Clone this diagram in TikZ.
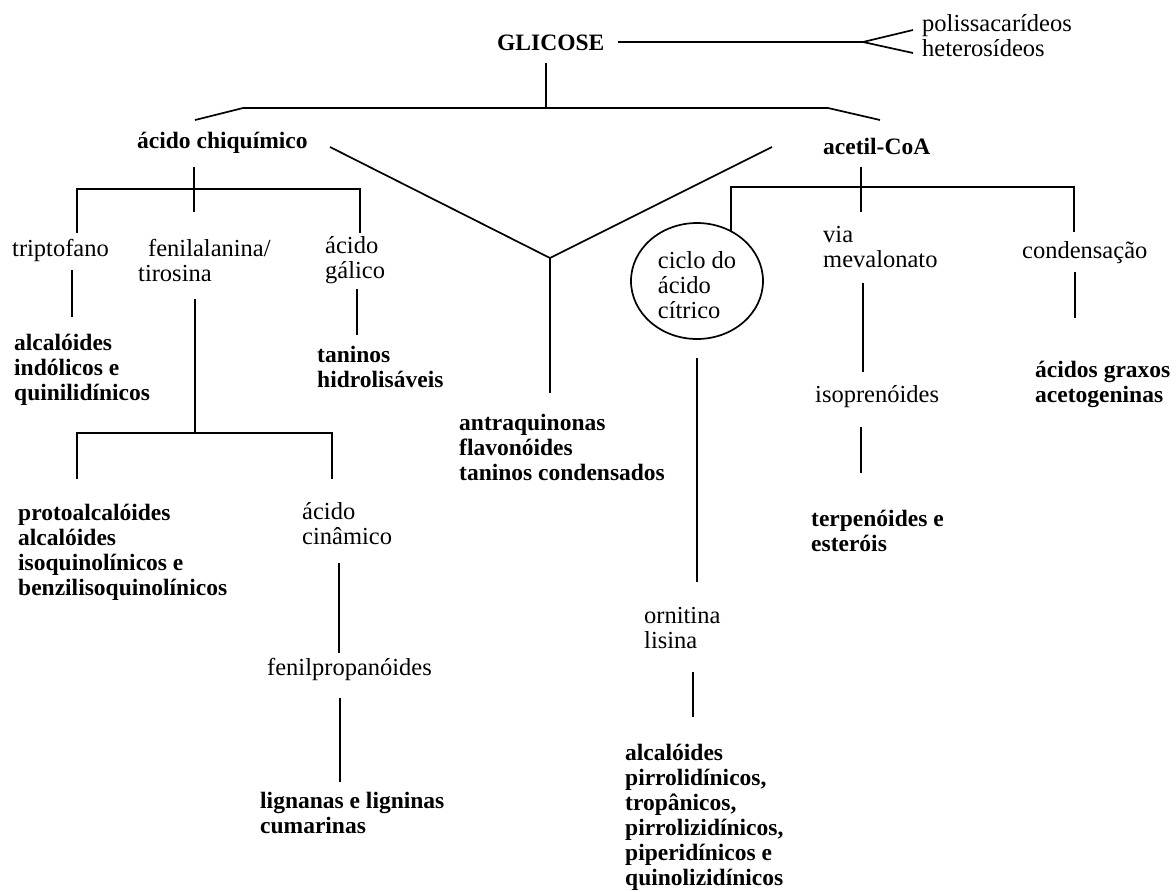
\documentclass[tikz,border=0pt]{standalone}
\usepackage{fontspec}
\setmainfont{Liberation Serif}
\usetikzlibrary{shapes.geometric}
\begin{document}
\begin{tikzpicture}[x=1pt,y=-1pt,
  ln/.style={line width=1.7pt, line join=miter},
  txt/.style={anchor=base west, inner sep=0pt, align=left, font=\fontsize{24.5}{25}\selectfont},
  btxt/.style={txt, font=\fontsize{23.5}{25}\selectfont\bfseries},
  cyc/.style={draw, ellipse, line width=1.7pt, minimum width=132pt, minimum height=116pt, inner sep=0pt, font=\fontsize{24.5}{25}\selectfont}]
\useasboundingbox (0,0) rectangle (1176,892);

% ---------- text nodes (y = baseline of last line) ----------
\node[btxt] (glicose) at (497,50) {GLICOSE};
\node[txt]  (poli) at (922,56) {polissacarídeos\\heterosídeos};
\node[btxt] (chiq) at (137,148) {ácido chiquímico};
\node[btxt] (acetil) at (823,154) {acetil-CoA};
\node[txt]  (tript) at (12,256) {triptofano};
\node[txt]  (fenil) at (138,281) {\hspace*{10pt}fenilalanina/\\tirosina};
\node[txt]  (galico) at (325,278) {ácido\\gálico};
\node[btxt] (alcind) at (14,400) {alcalóides\\indólicos e\\quinilidínicos};
\node[btxt] (tanhid) at (317,387) {taninos\\hidrolisáveis};
\node[btxt] (proto) at (18,595) {protoalcalóides\\alcalóides\\isoquinolínicos e\\benzilisoquinolínicos};
\node[txt]  (cinam) at (302,544) {ácido\\cinâmico};
\node[txt]  (fprop) at (267,675) {fenilpropanóides};
\node[btxt] (lign) at (260,833) {lignanas e ligninas\\cumarinas};
\node[btxt] (antra) at (459,480) {antraquinonas\\flavonóides\\taninos condensados};
\node[cyc]  (ciclo) at (697,281) {\raisebox{12.5pt}[0pt][0pt]{\begin{tabular}[t]{@{}l@{}}ciclo do\\ácido\\cítrico\end{tabular}}};
\node[txt]  (via) at (823,267) {via\\mevalonato};
\node[txt]  (cond) at (1022,258) {condensação};
\node[btxt] (acgrax) at (1035,402) {ácidos graxos\\acetogeninas};
\node[txt]  (isopr) at (815,402) {isoprenóides};
\node[btxt] (terp) at (811,551) {terpenóides e\\esteróis};
\node[txt]  (ornit) at (644,648) {ornitina\\lisina};
\node[btxt] (alcpir) at (625,885) {alcalóides\\pirrolidínicos,\\tropânicos,\\pirrolizidínicos,\\piperidínicos e\\quinolizidínicos};

% ---------- junction coordinates ----------
\coordinate (g1) at (618,42);
\coordinate (gf) at (863,42);
\coordinate (gp) at (913,30);
\coordinate (gh) at (913,53);
\coordinate (gv1) at (546,63);
\coordinate (gv2) at (546,108);
\coordinate (tl) at (195,120);
\coordinate (tl2) at (243,108);
\coordinate (tr2) at (828,108);
\coordinate (tr) at (880,120);

\coordinate (c1) at (194,167);
\coordinate (c2) at (194,212);
\coordinate (cbl) at (77,189);
\coordinate (cbl2) at (77,233);
\coordinate (cbr) at (360,189);
\coordinate (cbr2) at (360,233);
\coordinate (t1) at (72,270);
\coordinate (t2) at (72,317);
\coordinate (f1) at (195,299);
\coordinate (f2) at (195,433);
\coordinate (fbl) at (77,433);
\coordinate (fbl2) at (77,479);
\coordinate (fbr) at (332,433);
\coordinate (fbr2) at (332,479);
\coordinate (ga1) at (357,289);
\coordinate (ga2) at (357,335);
\coordinate (ci1) at (339,563);
\coordinate (ci2) at (339,653);
\coordinate (fp1) at (340,698);
\coordinate (fp2) at (340,782);

\coordinate (vl) at (330,147);
\coordinate (vm) at (550,258);
\coordinate (vr) at (772,147);
\coordinate (vb) at (550,393);

\coordinate (a1) at (861,167);
\coordinate (a2) at (861,212);
\coordinate (abl) at (731,187);
\coordinate (abl2) at (731,231);
\coordinate (abr) at (1074,187);
\coordinate (abr2) at (1074,232);
\coordinate (m1) at (863,283);
\coordinate (m2) at (863,372);
\coordinate (i1) at (861,427);
\coordinate (i2) at (861,473);
\coordinate (k1) at (1075,272);
\coordinate (k2) at (1075,318);
\coordinate (o1) at (697,358);
\coordinate (o2) at (697,582);
\coordinate (l1) at (693,672);
\coordinate (l2) at (693,717);

% ---------- connectors ----------
\draw[ln] (g1) -- (gf);
\draw[ln] (gp) -- (gf) -- (gh);
\draw[ln] (gv1) -- (gv2);
\draw[ln] (tl) -- (tl2) -- (tr2) -- (tr);

\draw[ln] (c1) -- (c2);
\draw[ln] (cbl2) -- (cbl) -- (cbr) -- (cbr2);
\draw[ln] (t1) -- (t2);
\draw[ln] (f1) -- (f2);
\draw[ln] (fbl2) -- (fbl) -- (fbr) -- (fbr2);
\draw[ln] (ga1) -- (ga2);
\draw[ln] (ci1) -- (ci2);
\draw[ln] (fp1) -- (fp2);

\draw[ln] (vl) -- (vm) -- (vr);
\draw[ln] (vm) -- (vb);

\draw[ln] (a1) -- (a2);
\draw[ln] (abl2) -- (abl) -- (abr) -- (abr2);
\draw[ln] (m1) -- (m2);
\draw[ln] (i1) -- (i2);
\draw[ln] (k1) -- (k2);
\draw[ln] (o1) -- (o2);
\draw[ln] (l1) -- (l2);
\end{tikzpicture}
\end{document}
